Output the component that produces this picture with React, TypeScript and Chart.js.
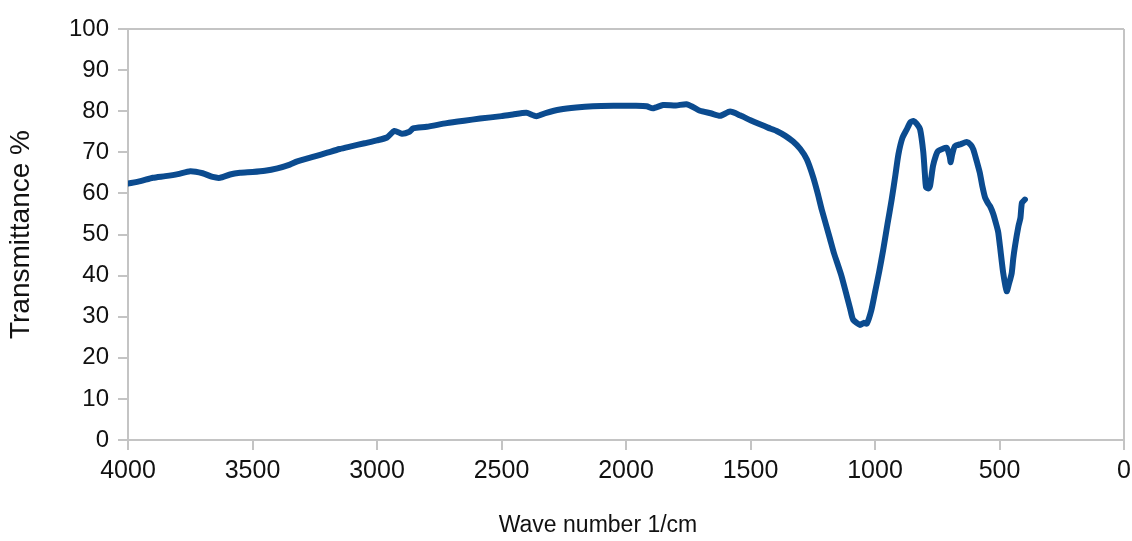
import React, { useEffect, useRef } from "react";
import { Chart, registerables } from "chart.js";

Chart.register(...registerables);

// FTIR spectrum: wavenumber (1/cm) and transmittance (%)
const wavenumbers = [
  4000, 3950, 3900, 3850, 3800, 3750, 3700, 3660, 3630, 3590, 3550, 3500, 3450, 3400, 3350, 3320,
  3250, 3200, 3150, 3100, 3050, 3000, 2960, 2930, 2900, 2870, 2855, 2800, 2720, 2650, 2586, 2500,
  2454, 2400, 2360, 2320, 2265, 2200, 2133, 2050, 1960, 1917, 1892, 1851, 1800, 1757, 1730, 1703,
  1660, 1622, 1582, 1542, 1500, 1462, 1430, 1395, 1360, 1329, 1300, 1274, 1249, 1230, 1214, 1181,
  1165, 1154, 1135, 1120, 1100, 1088, 1060, 1045, 1033, 1015, 1000, 983, 967, 950, 933, 918, 906,
  890, 873, 858, 846, 833, 819, 806, 800, 795, 785, 779, 767, 755, 747, 730, 712, 700, 696, 690,
  679, 655, 632, 615, 605, 590, 579, 568, 558, 545, 538, 525, 511, 505, 498, 485, 471, 462, 451,
  445, 438, 424, 416, 410, 398,
];

const transmittance = [
  62.4, 63.0, 63.8, 64.2, 64.7, 65.4, 64.9, 64.0, 63.8, 64.6, 65.0, 65.2, 65.5, 66.1, 67.0, 67.8,
  69.0, 69.9, 70.8, 71.5, 72.2, 72.9, 73.6, 75.2, 74.5, 75.0, 75.8, 76.2, 77.1, 77.7, 78.2, 78.8,
  79.2, 79.6, 78.8, 79.6, 80.4, 80.9, 81.2, 81.3, 81.3, 81.2, 80.7, 81.5, 81.4, 81.7, 81.0, 80.1,
  79.5, 78.9, 79.9, 79.0, 77.8, 76.8, 76.0, 75.2, 74.0, 72.6, 70.8, 68.3, 64.1, 60.0, 56.1, 49.0,
  45.5, 43.5, 40.0, 36.6, 32.0, 29.3, 28.0, 28.5, 28.3, 31.5, 35.9, 41.0, 46.3, 52.5, 58.5, 64.5, 69.5,
  73.5, 75.5, 77.3, 77.6, 77.0, 75.6, 70.0, 65.0, 61.5, 61.2, 61.8, 66.7, 69.3, 70.3, 70.8, 71.1, 69.0, 67.6, 69.5,
  71.5, 72.0, 72.5, 71.8, 70.7, 67.5, 65.0, 61.5, 59.0, 57.5, 56.9, 55.0, 52.0, 50.5, 47.1, 40.6, 36.2, 38.0, 40.6,
  44.0, 47.1, 52.0, 54.0, 57.7, 58.5,
];

const xTitle = "Wave number 1/cm";
const yTitle = "Transmittance %";

const AXIS_GREY = "#c4c4c4";
const LINE_BLUE = "#0b4b8f";
const TEXT = "#111";
const FONT = "'Liberation Sans', Arial, sans-serif";

// Draws the x-axis title a little left of the plot centre, under the tick labels
const xTitlePlugin = {
  id: "xTitleText",
  afterDraw(chart: any) {
    const { ctx, chartArea } = chart;
    ctx.save();
    ctx.font = `23px ${FONT}`;
    ctx.fillStyle = TEXT;
    ctx.textAlign = "center";
    ctx.textBaseline = "middle";
    ctx.fillText(xTitle, (chartArea.left + chartArea.right) / 2 - 28, chart.height - 15);
    ctx.restore();
  },
};

export default function App() {
  const canvasRef = useRef<HTMLCanvasElement | null>(null);

  useEffect(() => {
    if (!canvasRef.current) return;
    const points = wavenumbers.map((w, i) => ({ x: w, y: transmittance[i] }));

    const chart = new Chart(canvasRef.current, {
      type: "line",
      data: {
        datasets: [
          {
            data: points,
            borderColor: LINE_BLUE,
            borderWidth: 6,
            pointRadius: 0,
            tension: 0.2,
            fill: false,
            borderCapStyle: "round",
            borderJoinStyle: "round",
          },
        ],
      },
      plugins: [xTitlePlugin],
      options: {
        animation: false,
        responsive: false,
        maintainAspectRatio: false,
        layout: { padding: { top: 29, right: 8, left: 0, bottom: 0 } },
        plugins: { legend: { display: false }, tooltip: { enabled: false } },
        scales: {
          x: {
            type: "linear",
            reverse: true,
            min: 0,
            max: 4000,
            ticks: {
              stepSize: 500,
              color: TEXT,
              font: { family: FONT, size: 25 },
              padding: 6,
              maxRotation: 0,
              autoSkip: false,
              callback: (v: any) => String(v),
            },
            grid: {
              color: (ctx: any) => (ctx.tick && ctx.tick.value === 0 ? AXIS_GREY : "transparent"),
              tickColor: AXIS_GREY,
              tickLength: 10,
              lineWidth: 2,
            },
            border: { display: true, color: AXIS_GREY, width: 2 },
            title: { display: false },
            afterFit: (scale: any) => {
              scale.height = 101;
              scale.paddingRight = 0;
              scale.paddingLeft = 0;
            },
          },
          y: {
            min: 0,
            max: 100,
            ticks: {
              stepSize: 10,
              color: TEXT,
              font: { family: FONT, size: 24 },
              padding: 9,
              callback: (v: any) => String(v),
            },
            grid: {
              color: (ctx: any) => (ctx.tick && ctx.tick.value === 100 ? AXIS_GREY : "transparent"),
              tickColor: AXIS_GREY,
              tickLength: 10,
              lineWidth: 2,
            },
            border: { display: true, color: AXIS_GREY, width: 2 },
            title: {
              display: true,
              text: yTitle,
              color: TEXT,
              font: { family: FONT, size: 28 },
              padding: { top: 4, bottom: 0 },
            },
            afterFit: (scale: any) => {
              scale.width = 128;
            },
          },
        },
      },
    });

    return () => chart.destroy();
  }, []);

  return (
    <div style={{ position: "fixed", left: 0, top: 0, width: 1132, height: 541, background: "#fff" }}>
      <canvas ref={canvasRef} width={1132} height={541} style={{ width: 1132, height: 541 }} />
    </div>
  );
}
